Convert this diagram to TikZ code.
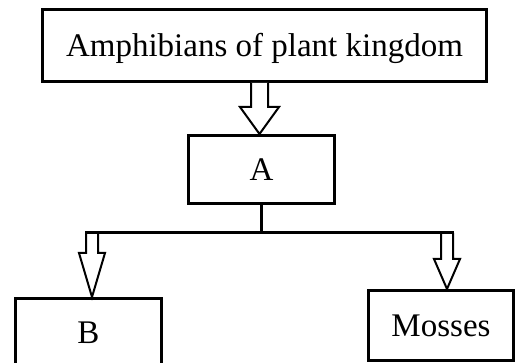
\documentclass[tikz,border=0pt]{standalone}
\usepackage{fontspec}
\setmainfont{Liberation Serif}
\usetikzlibrary{calc}

\tikzset{
  box/.style={draw, line width=3pt, minimum height=68pt, inner sep=0pt,
    font=\fontsize{33}{36}\selectfont, text height=22pt, text depth=0pt},
  link/.style={line width=3pt},
  hollow/.style={line width=2pt, line join=miter, fill=white},
}
% from, to, shaft half width, head half width, head length
\newcommand{\hollowarrow}[5]{%
  \draw[hollow] let \p1=(#1), \p2=(#2) in
    (\x1-#3,\y1) -- (\x1-#3,\y2+#5) -- (\x1-#4,\y2+#5) -- (\x1,\y2)
    -- (\x1+#4,\y2+#5) -- (\x1+#3,\y2+#5) -- (\x1+#3,\y1);
}

\begin{document}
\begin{tikzpicture}[x=1pt,y=-1pt]
    \useasboundingbox (0,0) rectangle (515,363);

    \node[box, minimum width=444pt, minimum height=72pt] (top) at (264.5,45.5) {Amphibians of plant kingdom};
    \node[box, minimum width=146pt] (A) at (261.5,169.5) {A};
    \node[box, minimum width=146pt] (B) at (88.5,332.5) {B};
    \node[box, minimum width=145pt, minimum height=70pt] (mosses) at (441,325.5) {Mosses};

    \coordinate (stem) at (259.5,83);
    \coordinate (lfoot) at (92,233);
    \coordinate (rfoot) at (447,233);

    \hollowarrow{top.south -| stem}{A.north -| stem}{8.5pt}{19.5pt}{27pt}
    \hollowarrow{lfoot}{B.north -| lfoot}{6pt}{13pt}{44pt}
    \hollowarrow{rfoot}{mosses.north -| rfoot}{6pt}{13pt}{30pt}

    \draw[link] (A.south) -- (A.south |- lfoot);
    \draw[link] ([xshift=-7pt]lfoot) -- ([xshift=7pt]rfoot);
\end{tikzpicture}
\end{document}
